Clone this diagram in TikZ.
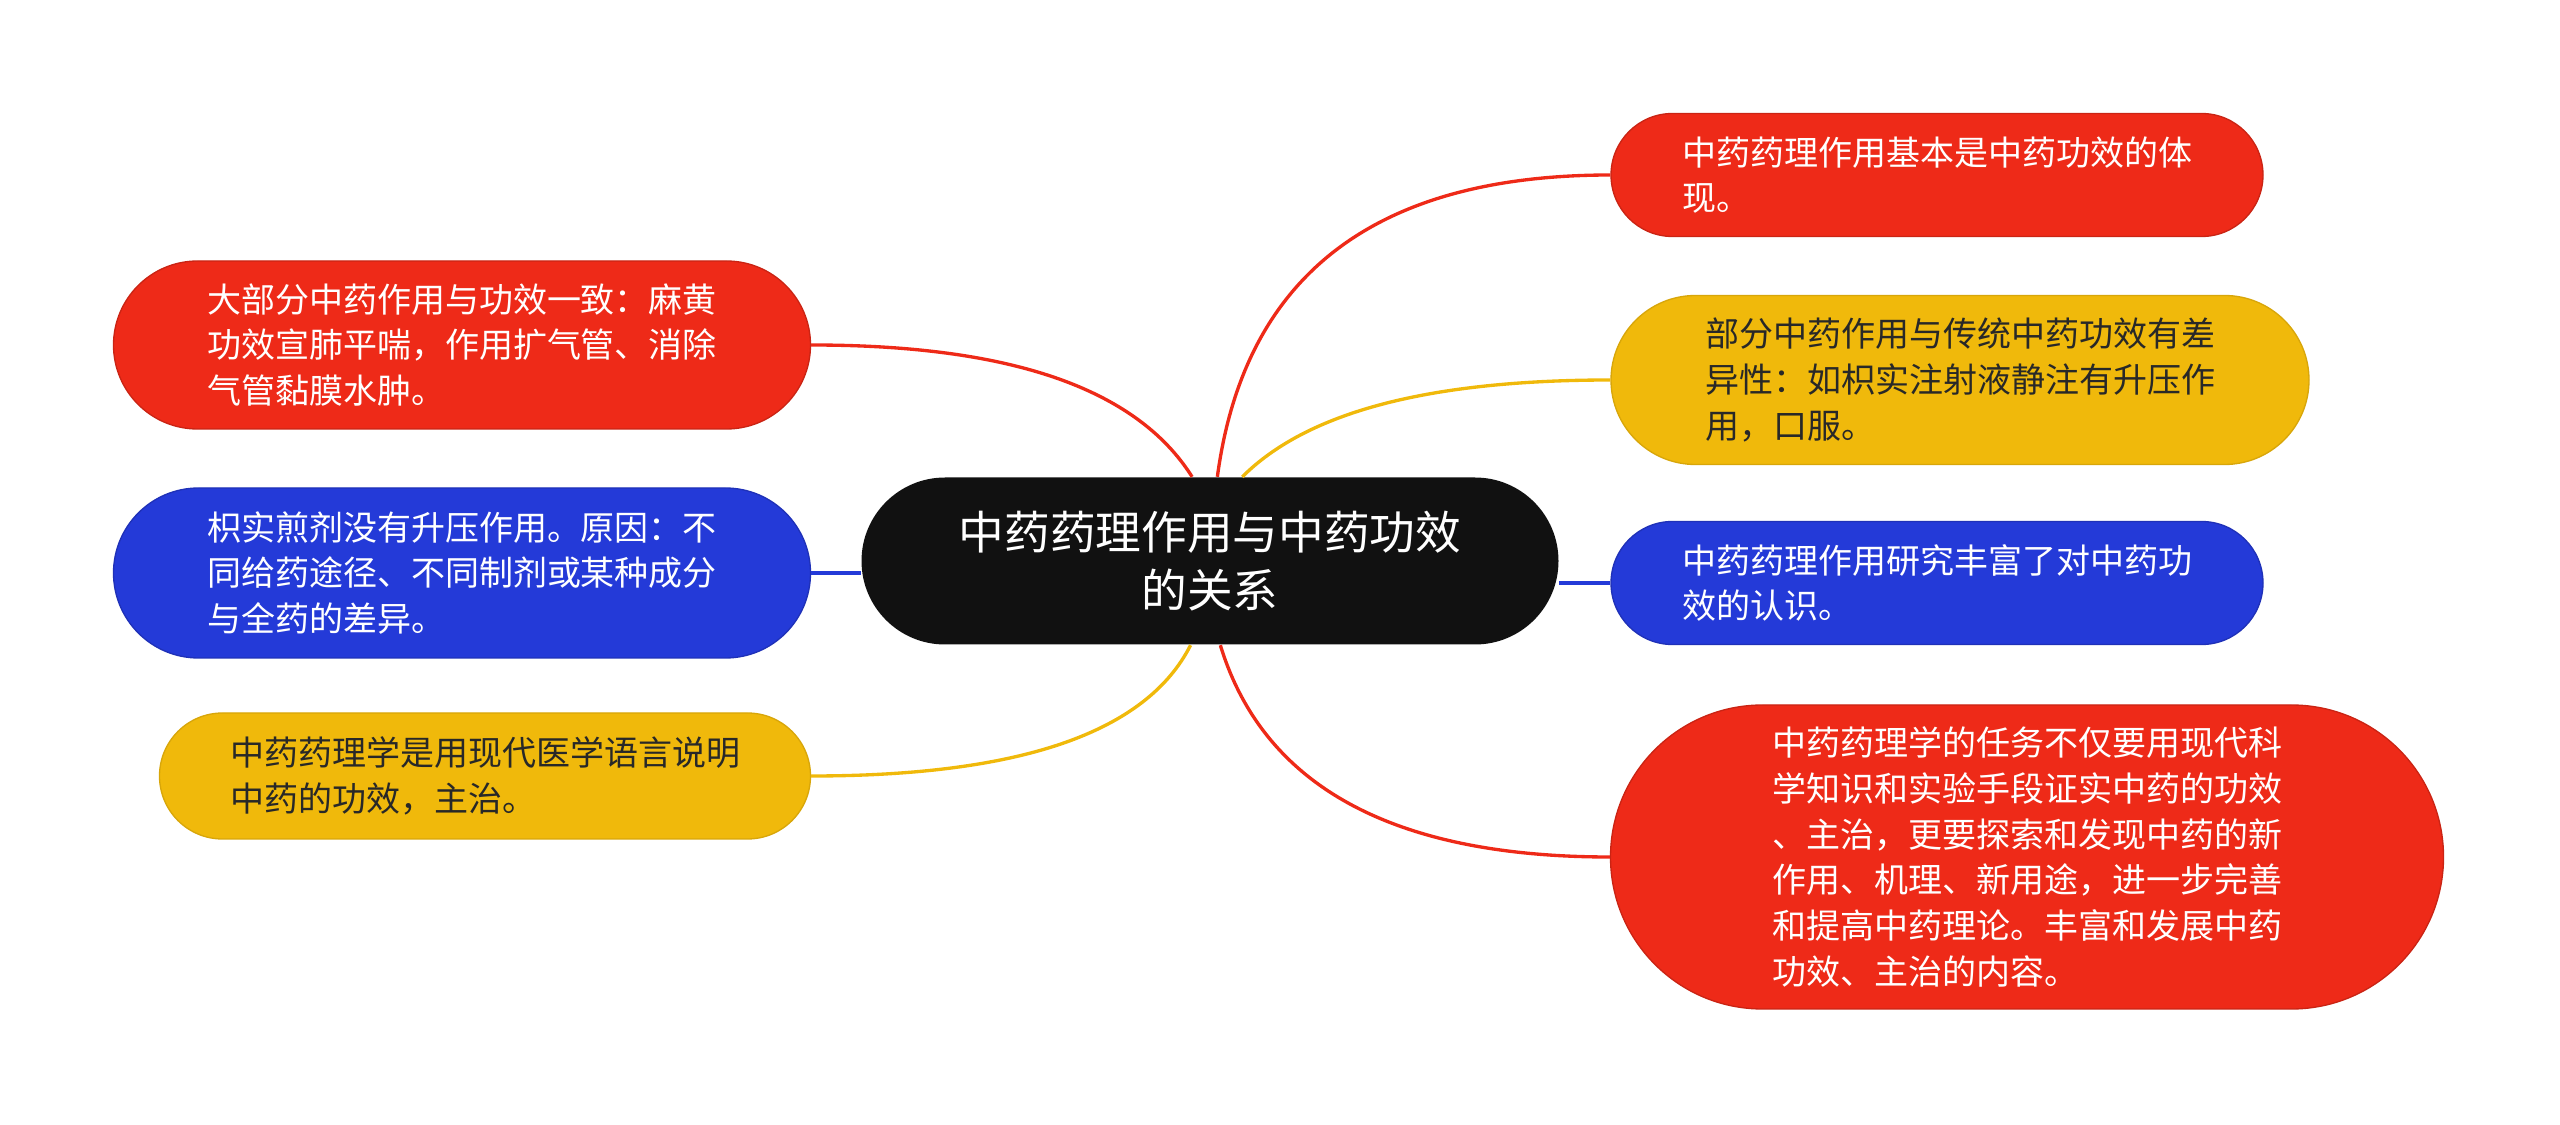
\documentclass[tikz,border=0pt]{standalone}
\usepackage{fontspec}
\usepackage{xcolor}
\usepackage{tikz}
\usetikzlibrary{shapes.misc, positioning}
\setmainfont{Noto Sans CJK SC}
\definecolor{mapred}{RGB}{238,42,24}
\definecolor{mapblue}{RGB}{36,58,216}
\definecolor{mapyellow}{RGB}{240,185,11}
\definecolor{mapblack}{RGB}{17,17,17}
\definecolor{darktext}{RGB}{40,40,40}

\begin{document}
\begin{tikzpicture}[x=0.3pt, y=-0.3pt,
  leaf/.style={rounded rectangle, align=left, inner sep=0pt, line width=0.4pt,
    font=\fontsize{10.2}{13.7}\selectfont},
  redleaf/.style={leaf, fill=mapred, draw=mapred!85!black, text=white},
  blueleaf/.style={leaf, fill=mapblue, draw=mapblue!85!black, text=white},
  yellowleaf/.style={leaf, fill=mapyellow, draw=mapyellow!90!black, text=darktext},
  topic/.style={rounded rectangle, align=center, inner sep=0pt, fill=mapblack,
    text=white, font=\fontsize{13.7}{17.2}\selectfont},
  link/.style={line width=1pt}]
\useasboundingbox (0,0) rectangle (2560,1125);

% central topic
\node[topic, minimum width=209.1pt, minimum height=50.1pt] (mid) at (1210,561)
  {中药药理作用与中药功效\\的关系};

% left branches
\node[redleaf, minimum width=209.1pt, minimum height=50.4pt] (L1) at (462,345)
  {大部分中药作用与功效一致：麻黄\\功效宣肺平喘，作用扩气管、消除\\气管黏膜水肿。};
\node[blueleaf, minimum width=209.1pt, minimum height=51pt] (L2) at (462,573)
  {枳实煎剂没有升压作用。原因：不\\同给药途径、不同制剂或某种成分\\与全药的差异。};
\node[yellowleaf, minimum width=195.3pt, minimum height=37.8pt] (L3) at (485,776)
  {中药药理学是用现代医学语言说明\\中药的功效，主治。};

% right branches
\node[redleaf, minimum width=195.6pt, minimum height=36.9pt] (R1) at (1937,175)
  {中药药理作用基本是中药功效的体\\现。};
\node[yellowleaf, minimum width=209.4pt, minimum height=50.7pt] (R2) at (1960,380)
  {部分中药作用与传统中药功效有差\\异性：如枳实注射液静注有升压作\\用，口服。};
\node[blueleaf, minimum width=195.6pt, minimum height=36.9pt] (R3) at (1937,583)
  {中药药理作用研究丰富了对中药功\\效的认识。};
\node[redleaf, minimum width=249.9pt, minimum height=91.2pt] (R4) at (2027,857)
  {中药药理学的任务不仅要用现代科\\学知识和实验手段证实中药的功效\\、主治，更要探索和发现中药的新\\作用、机理、新用途，进一步完善\\和提高中药理论。丰富和发展中药\\功效、主治的内容。};

% connectors
\draw[link, mapred] (L1.east) .. controls +(198,0) and +(-56,-89) .. (mid.102.5);
\draw[link, mapblue] (L2.east) -- (L2.east -| mid.west);
\draw[link, mapyellow] (L3.east) .. controls +(210,0) and +(-44,87) .. (mid.257.5);
\draw[link, mapred] (R1.west) .. controls +(-235,0) and +(27,-202) .. (mid.85);
\draw[link, mapyellow] (R2.west) .. controls +(-181,0) and +(65,-65) .. (mid.69);
\draw[link, mapblue] (R3.west) -- (R3.west -| mid.east);
\draw[link, mapred] (R4.west) .. controls +(-217,0) and +(43,141) .. (mid.277);
\end{tikzpicture}
\end{document}
